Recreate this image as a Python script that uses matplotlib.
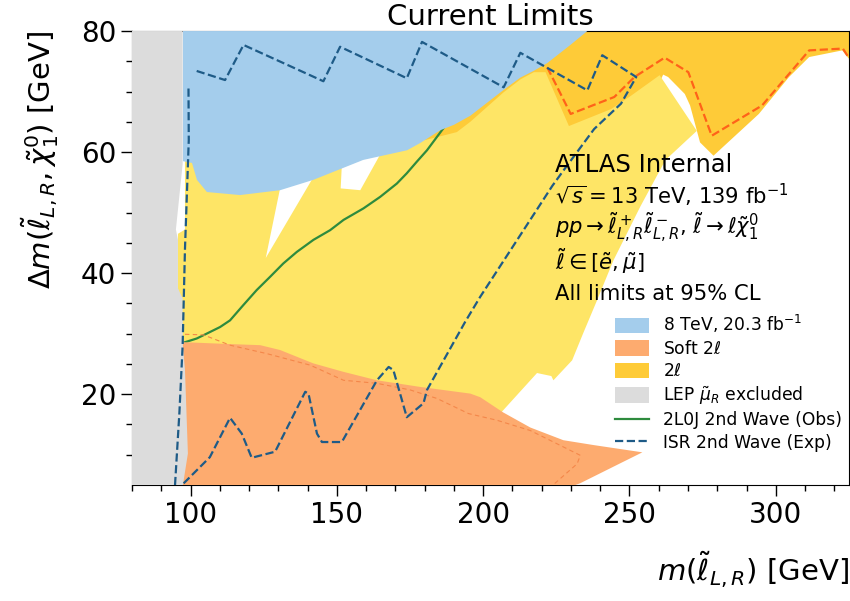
import numpy as np
import matplotlib
matplotlib.use("Agg")
import matplotlib.pyplot as plt
from matplotlib.ticker import MultipleLocator, FixedLocator

# --- exclusion contours, (m_slepton, delta_m) in GeV ---
lep_x = [80, 80, 97.3, 97.3, 95.0, 95.7, 95.7, 97.3, 97.4, 98.1, 99.1, 97.4]
lep_y = [5, 80, 80, 58.0, 47.2, 45.5, 37.5, 35.8, 28.0, 24.0, 10.2, 5]

tev8_x = [97.4, 235.6, 229.8, 221.9, 217.2, 212.7, 206.8, 195.6, 190.0, 185.3,
          178.5, 174.0, 159.0, 141.9, 130.6, 116.9, 105.6, 102.2, 100.5, 97.4]
tev8_y = [80, 80, 77.7, 74.7, 73.4, 72.3, 70.2, 66.0, 64.5, 63.6,
          61.5, 60.3, 58.7, 55.4, 53.7, 52.9, 53.4, 55.4, 58.2, 58.5]

soft_x = [96, 96, 97.4, 112.4, 123.8, 130.6, 141.9, 152.2, 163.7, 178.5, 195.6,
          199.0, 206.8, 216.1, 227.4, 237.7, 254.4, 246.9, 233.2, 231.5]
soft_y = [5, 28.6, 28.6, 28.3, 28.1, 27.3, 25.1, 23.7, 22.3, 21.2, 20.1,
          19.5, 17.0, 14.5, 12.4, 11.6, 10.4, 8.6, 5.3, 5.0]

# 2l: high-mass band around the expected contour
twol_hi_x = [218, 325, 325, 322.7, 311.4, 304.5, 294.2, 278.7, 274.1, 270.7, 268.9,
             263.2, 261.5, 255, 245, 230, 222, 212, 200, 185, 178, 190, 205]
twol_hi_y = [80, 80, 75.4, 76.8, 75.7, 72.4, 66.3, 59.4, 61.6, 67.7, 69.6,
             72.4, 72.8, 66, 63, 61, 66, 68, 64, 61, 60.5, 70, 76]

# 2l: main excluded area
twol_x = [96.5, 96.5, 95.7, 95.7, 98.1, 98.1, 110, 128, 130.6, 125.7, 141.9, 147,
          151.7, 151.3, 158.0, 164.8, 174.0, 178.5, 185.3, 191.0, 195.6, 206.8,
          212.7, 217.3, 221.3, 229.3, 243.7, 250.5, 260.3, 273.0, 262.3, 253.7,
          244.5, 238.9, 234.2, 230.4, 224.0, 223.3, 218.4, 206.0, 200, 120, 96.5]
twol_y = [14, 30, 37.5, 46.5, 47.2, 59.0, 56.0, 56.0, 54.0, 42.5, 55.8, 57.6,
          57.8, 54.0, 53.7, 59.6, 61.0, 61.8, 62.6, 63.3, 65.0, 69.8,
          72.0, 73.2, 73.2, 64.3, 67.1, 69.3, 72.7, 63.5, 58.7, 51.0,
          42.1, 35.5, 30.1, 25.6, 22.3, 23.0, 23.5, 16.9, 14, 14, 14]

twol_exp_x = [221.9, 229.9, 244.8, 251.7, 262.0, 270.1, 278.1, 295.3, 311.4, 322.9, 325.2]
twol_exp_y = [74.0, 66.3, 69.1, 72.4, 75.6, 73.2, 62.7, 67.7, 76.8, 77.1, 75.4]

soft_exp_x = [98.1, 104.4, 113.5, 126.1, 140.9, 152.3, 163.7, 175.1, 184.2, 195.0,
              204.7, 216.1, 233.2, 232.1, 224.1]
soft_exp_y = [29.9, 29.8, 28.1, 26.7, 24.8, 22.3, 21.8, 20.7, 19.3, 16.8,
              15.7, 14.0, 9.9, 8.5, 5.1]

obs_2l0j_x = [97.5, 102.1, 105.5, 110.1, 113.5, 118.0, 122.6, 127.2, 131.7, 136.3,
              142.0, 147.7, 152.3, 159.1, 164.8, 170.5, 173.9, 177.3, 180.8, 186.5]
obs_2l0j_y = [28.5, 29.2, 30.0, 31.1, 32.2, 34.7, 37.2, 39.4, 41.6, 43.5,
              45.5, 47.1, 48.8, 50.7, 52.6, 54.8, 56.5, 58.4, 60.3, 64.0]

isr_x = [102.1, 111.8, 118.1, 145.4, 151.1, 173.9, 179.1, 207.0, 212.7, 235.6,
         240.7, 252.3, 247.1, 237.9, 227.5, 223.6, 199.0, 193.9, 180.8, 179.6,
         173.9, 169.3, 167.7, 163.7, 151.7, 144.9, 143.2, 140.3, 139.2, 128.9,
         120.9, 117.5, 113.5, 106.6, 97.5]
isr_y = [73.4, 71.9, 77.7, 71.7, 77.4, 72.2, 78.2, 70.7, 76.4, 70.2,
         76.0, 72.4, 68.0, 63.8, 57.0, 54.4, 36.1, 32.0, 20.7, 18.5,
         16.2, 24.0, 24.5, 22.3, 12.1, 12.1, 13.5, 20.1, 20.4, 10.5,
         9.5, 13.5, 16.1, 9.6, 5.2]
isr_edge_x = [99.3, 99.4, 98.1, 97.3, 96.2, 94.7]
isr_edge_y = [70.5, 62.0, 44.0, 28.0, 17.0, 5.0]

C_BLUE = "#a4cdec"
C_SOFT = "#fdab6f"
C_2L = "#fecb38"
C_2L_LIGHT = "#fee566"
C_LEP = "#dcdcdc"
C_OBS = "#2e8b3e"
C_ISR = "#1e5b87"

fig = plt.figure(figsize=(8.5, 6.01), dpi=100)
ax = fig.add_axes([0.1553, 0.193, 0.8435, 0.7554])

ax.fill(twol_hi_x, twol_hi_y, color=C_2L, lw=0, zorder=1, label=r"2$\ell$")
ax.fill(twol_x, twol_y, color=C_2L_LIGHT, lw=0, zorder=2)
ax.plot(obs_2l0j_x, obs_2l0j_y, color=C_OBS, lw=1.6, zorder=2.5,
        label="2L0J 2nd Wave (Obs)")
ax.fill(tev8_x, tev8_y, color=C_BLUE, lw=0, zorder=3, label=r"8 TeV, 20.3 fb$^{-1}$")
ax.fill(soft_x, soft_y, color=C_SOFT, lw=0, zorder=3, label=r"Soft 2$\ell$")
ax.fill(lep_x, lep_y, color=C_LEP, lw=0, zorder=4, label=r"LEP $\tilde{\mu}_R$ excluded")

ax.plot(soft_exp_x, soft_exp_y, color="#f4874a", lw=0.8, ls=(0, (4, 3)), zorder=5)
ax.plot(twol_exp_x, twol_exp_y, color="#ff6219", lw=1.6, ls="--", zorder=5)
ax.plot(isr_x, isr_y, color=C_ISR, lw=1.6, ls="--", zorder=6,
        label="ISR 2nd Wave (Exp)")
ax.plot(isr_edge_x, isr_edge_y, color=C_ISR, lw=1.6, ls="--", zorder=6)

ax.set_xlim(80, 325)
ax.set_ylim(5, 80)
ax.xaxis.set_major_locator(FixedLocator([100, 150, 200, 250, 300]))
ax.xaxis.set_minor_locator(MultipleLocator(10))
ax.yaxis.set_major_locator(FixedLocator([20, 40, 60, 80]))
ax.yaxis.set_minor_locator(FixedLocator(np.arange(10, 80, 5)))
ax.tick_params(which="major", length=8, width=1, labelsize=20)
ax.tick_params(which="minor", length=4, width=1)

ax.set_title("Current Limits", fontsize=21, pad=3)
ax.set_xlabel(r"$m(\tilde{\ell}_{L,R})$ [GeV]", fontsize=21, loc="right", labelpad=15)
ax.set_ylabel(r"$\Delta m(\tilde{\ell}_{L,R},\tilde{\chi}^0_1)$ [GeV]", fontsize=21,
              loc="top", labelpad=14)

tx = 224.7
ax.text(tx, 56.7, "ATLAS Internal", fontsize=17.5, va="baseline", zorder=7)
ax.text(tx, 51.4, r"$\sqrt{s}=13$ TeV, 139 fb$^{-1}$", fontsize=15.2, va="baseline", zorder=7)
ax.text(tx, 46.3, r"$pp\to\tilde{\ell}^+_{L,R}\tilde{\ell}^-_{L,R}$, $\tilde{\ell}\to\ell\tilde{\chi}^0_1$",
        fontsize=15.2, va="baseline", zorder=7)
ax.text(tx, 40.5, r"$\tilde{\ell}\in[\tilde{e},\tilde{\mu}]$", fontsize=15.2, va="baseline", zorder=7)
ax.text(tx, 35.5, "All limits at 95% CL", fontsize=15.2, va="baseline", zorder=7)

handles, labels = ax.get_legend_handles_labels()
order = [r"8 TeV, 20.3 fb$^{-1}$", r"Soft 2$\ell$", r"2$\ell$", r"LEP $\tilde{\mu}_R$ excluded",
         "2L0J 2nd Wave (Obs)", "ISR 2nd Wave (Exp)"]
hmap = dict(zip(labels, handles))
ax.legend([hmap[k] for k in order], order, loc="lower right", bbox_to_anchor=(1.0, 0.058),
          frameon=False, fontsize=12.3, handlelength=2.0, handleheight=1.0,
          handletextpad=0.8, labelspacing=0.26, borderaxespad=0)

fig.savefig("out.png", dpi=100)
